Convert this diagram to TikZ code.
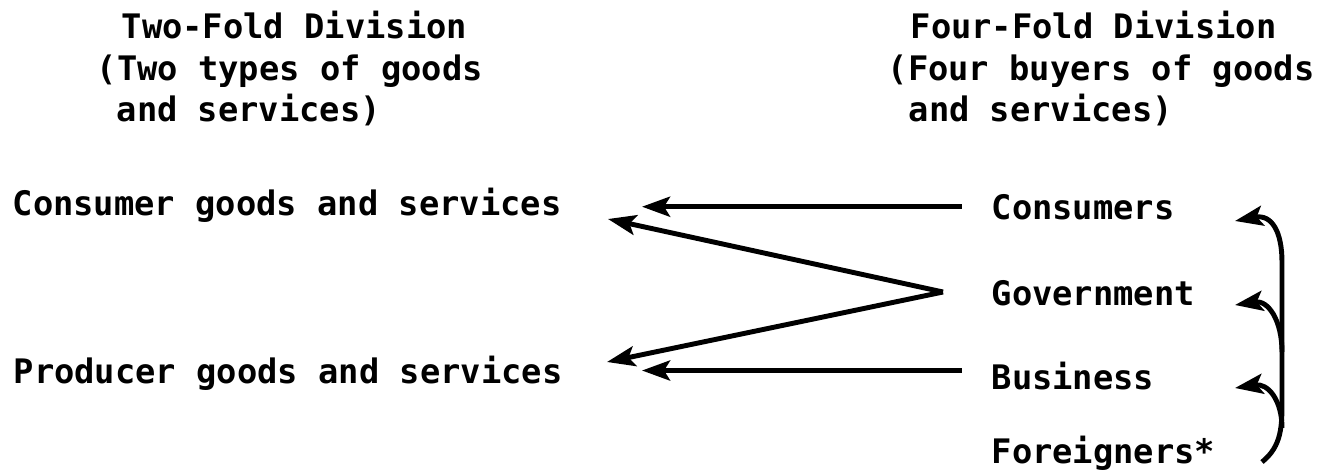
\documentclass[tikz,border=0pt]{standalone}
\usepackage{fontspec}
\setmonofont{DejaVu Sans Mono}
\usepackage{tikz}
\usetikzlibrary{arrows.meta}
\tikzset{
    txt/.style = {anchor=base west, inner sep=0pt, font=\ttfamily\bfseries\fontsize{9.6pt}{12pt}\selectfont},
    arr/.style = {-{Stealth[length=0.28cm, width=0.2cm, inset=0.06cm]}, line width=1.4pt},
}

\begin{document}
\begin{tikzpicture}[x=0.01cm, y=-0.01cm]
\useasboundingbox (0,0) rectangle (1329,475);
% column headings
\node[txt] at (121,38) (twoa) {Two-Fold Division};
\node[txt] at (96,80) (twob) {(Two types of goods};
\node[txt] at (116,121) (twoc) {and services)};
\node[txt] at (910,38) (foura) {Four-Fold Division};
\node[txt] at (887,80) (fourb) {(Four buyers of goods};
\node[txt] at (908,121) (fourc) {and services)};
% left column
\node[txt] at (12,215) (consgoods) {Consumer goods and services};
\node[txt] at (13,383) (prodgoods) {Producer goods and services};
% right column
\node[txt] at (991,219) (consumers) {Consumers};
\node[txt] at (991,305) (government) {Government};
\node[txt] at (991,389) (business) {Business};
\node[txt] at (991,463) (foreigners) {Foreigners*};
% arrows
\coordinate (cend) at (642,0);
\coordinate (fork) at (943,292);
\coordinate (ctip) at (608,219);
\coordinate (ptip) at (607,362);
\draw[arr, shorten <=0.29cm] (consumers.west) -- (consumers.west -| cend);
\draw[arr, shorten <=0.29cm] ([yshift=0.05cm]business.west) -- ([yshift=0.05cm]business.west -| cend);
\draw[arr] (fork) -- (ctip);
\draw[arr] (fork) -- (ptip);
% bracket on the right
\coordinate (ftail) at (1262,462);
\coordinate (ctop) at (1235,221);
\coordinate (gtip) at (1235,305);
\coordinate (btip) at (1235,388);
\draw[arr] (ftail) .. controls (1282,446) and (1282,426) .. (1282,400) -- (1282,262) .. controls (1282,232) and (1272,214) .. (ctop);
\draw[arr] (1282,352) .. controls (1282,320) and (1268,300) .. (gtip);
\draw[arr] (1282,428) .. controls (1282,400) and (1268,383) .. (btip);
\end{tikzpicture}
\end{document}
